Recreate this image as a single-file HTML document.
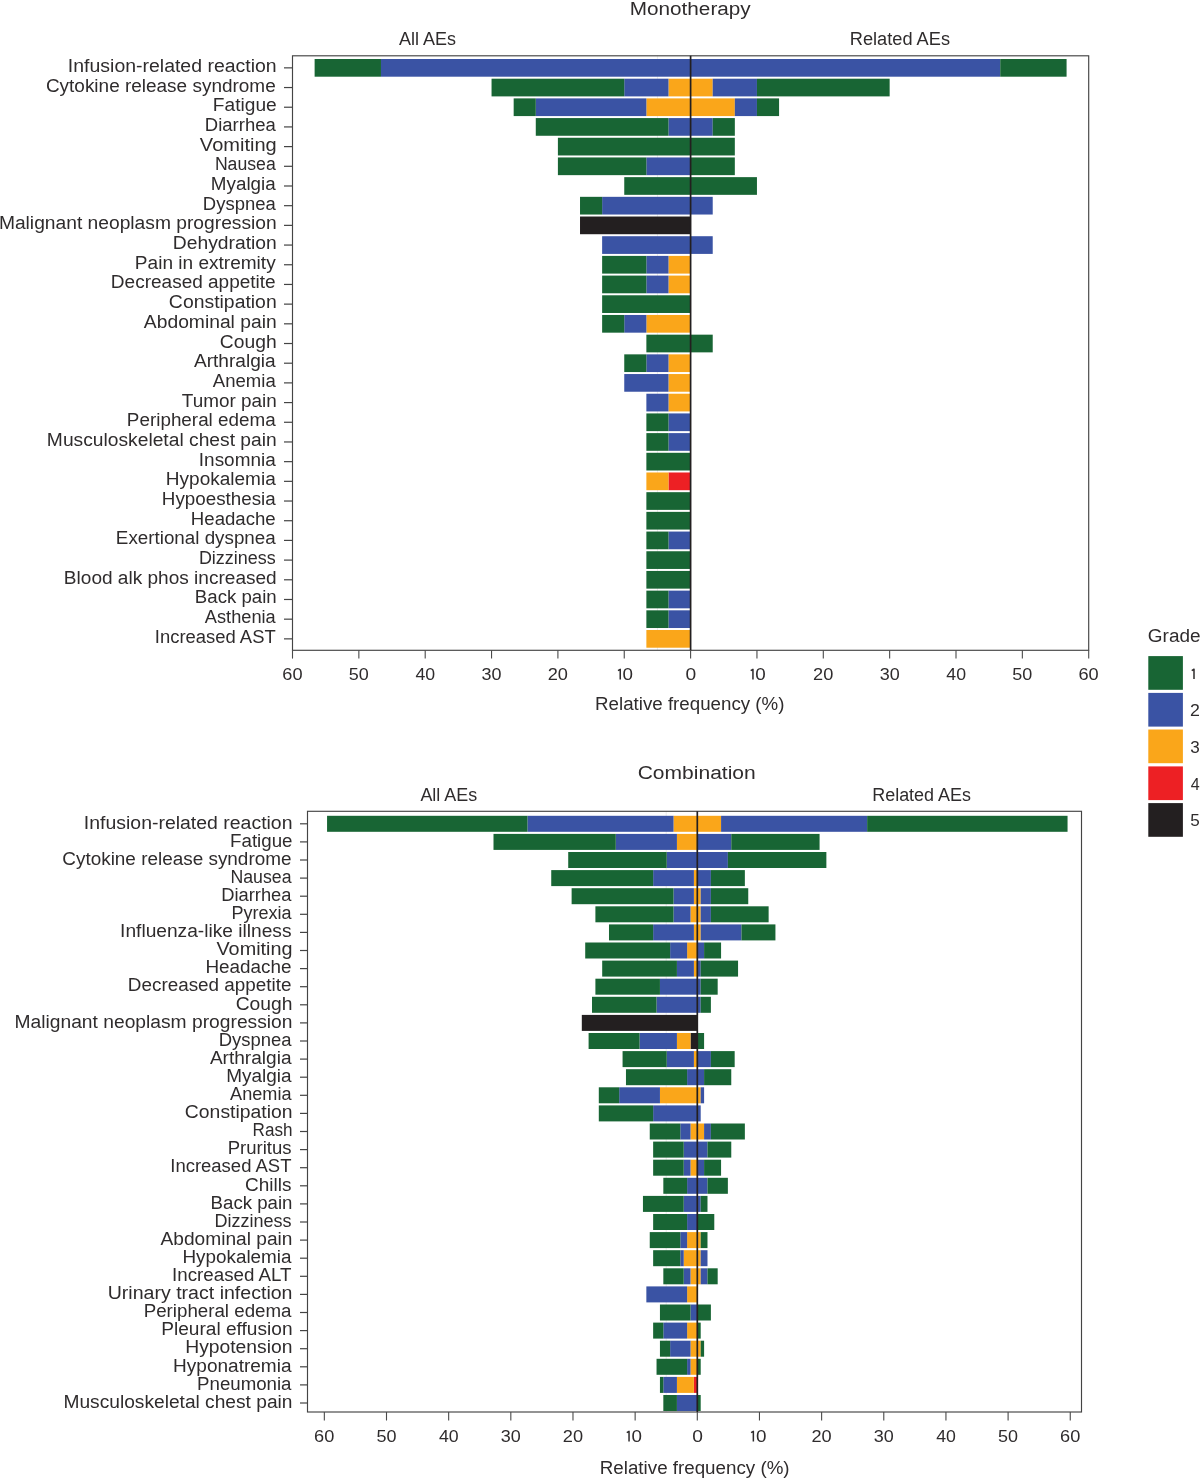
<!DOCTYPE html>
<html><head><meta charset="utf-8"><style>
html,body{margin:0;padding:0;background:#fff;}
svg{display:block;font-family:"Liberation Sans", sans-serif;}
svg{will-change:transform;}
</style></head><body>
<svg width="1200" height="1478" viewBox="0 0 1200 1478">
<rect x="0" y="0" width="1200" height="1478" fill="#fff"/>
<line x1="657.43" y1="55.80" x2="657.43" y2="650.30" stroke="#e6e6e6" stroke-width="0.8"/>
<rect x="380.97" y="59.00" width="309.63" height="17.70" fill="#3a53a4"/>
<rect x="314.62" y="59.00" width="66.35" height="17.70" fill="#186534"/>
<rect x="690.60" y="59.00" width="309.63" height="17.70" fill="#3a53a4"/>
<rect x="1000.23" y="59.00" width="66.35" height="17.70" fill="#186534"/>
<line x1="284.00" y1="67.85" x2="292.50" y2="67.85" stroke="#444" stroke-width="1.2"/>
<rect x="668.48" y="78.69" width="22.12" height="17.70" fill="#faa61a"/>
<rect x="624.25" y="78.69" width="44.23" height="17.70" fill="#3a53a4"/>
<rect x="491.55" y="78.69" width="132.70" height="17.70" fill="#186534"/>
<rect x="690.60" y="78.69" width="22.12" height="17.70" fill="#faa61a"/>
<rect x="712.72" y="78.69" width="44.23" height="17.70" fill="#3a53a4"/>
<rect x="756.95" y="78.69" width="132.70" height="17.70" fill="#186534"/>
<line x1="284.00" y1="87.54" x2="292.50" y2="87.54" stroke="#444" stroke-width="1.2"/>
<rect x="646.37" y="98.38" width="44.23" height="17.70" fill="#faa61a"/>
<rect x="535.78" y="98.38" width="110.58" height="17.70" fill="#3a53a4"/>
<rect x="513.67" y="98.38" width="22.12" height="17.70" fill="#186534"/>
<rect x="690.60" y="98.38" width="44.23" height="17.70" fill="#faa61a"/>
<rect x="734.83" y="98.38" width="22.12" height="17.70" fill="#3a53a4"/>
<rect x="756.95" y="98.38" width="22.12" height="17.70" fill="#186534"/>
<line x1="284.00" y1="107.23" x2="292.50" y2="107.23" stroke="#444" stroke-width="1.2"/>
<rect x="668.48" y="118.07" width="22.12" height="17.70" fill="#3a53a4"/>
<rect x="535.78" y="118.07" width="132.70" height="17.70" fill="#186534"/>
<rect x="690.60" y="118.07" width="22.12" height="17.70" fill="#3a53a4"/>
<rect x="712.72" y="118.07" width="22.12" height="17.70" fill="#186534"/>
<line x1="284.00" y1="126.92" x2="292.50" y2="126.92" stroke="#444" stroke-width="1.2"/>
<rect x="557.90" y="137.76" width="132.70" height="17.70" fill="#186534"/>
<rect x="690.60" y="137.76" width="44.23" height="17.70" fill="#186534"/>
<line x1="284.00" y1="146.61" x2="292.50" y2="146.61" stroke="#444" stroke-width="1.2"/>
<rect x="646.37" y="157.45" width="44.23" height="17.70" fill="#3a53a4"/>
<rect x="557.90" y="157.45" width="88.47" height="17.70" fill="#186534"/>
<rect x="690.60" y="157.45" width="44.23" height="17.70" fill="#186534"/>
<line x1="284.00" y1="166.30" x2="292.50" y2="166.30" stroke="#444" stroke-width="1.2"/>
<rect x="624.25" y="177.14" width="66.35" height="17.70" fill="#186534"/>
<rect x="690.60" y="177.14" width="66.35" height="17.70" fill="#186534"/>
<line x1="284.00" y1="185.99" x2="292.50" y2="185.99" stroke="#444" stroke-width="1.2"/>
<rect x="602.13" y="196.83" width="88.47" height="17.70" fill="#3a53a4"/>
<rect x="580.02" y="196.83" width="22.12" height="17.70" fill="#186534"/>
<rect x="690.60" y="196.83" width="22.12" height="17.70" fill="#3a53a4"/>
<line x1="284.00" y1="205.68" x2="292.50" y2="205.68" stroke="#444" stroke-width="1.2"/>
<rect x="580.02" y="216.52" width="110.58" height="17.70" fill="#231f20"/>
<line x1="284.00" y1="225.37" x2="292.50" y2="225.37" stroke="#444" stroke-width="1.2"/>
<rect x="602.13" y="236.21" width="88.47" height="17.70" fill="#3a53a4"/>
<rect x="690.60" y="236.21" width="22.12" height="17.70" fill="#3a53a4"/>
<line x1="284.00" y1="245.06" x2="292.50" y2="245.06" stroke="#444" stroke-width="1.2"/>
<rect x="668.48" y="255.90" width="22.12" height="17.70" fill="#faa61a"/>
<rect x="646.37" y="255.90" width="22.12" height="17.70" fill="#3a53a4"/>
<rect x="602.13" y="255.90" width="44.23" height="17.70" fill="#186534"/>
<line x1="284.00" y1="264.75" x2="292.50" y2="264.75" stroke="#444" stroke-width="1.2"/>
<rect x="668.48" y="275.59" width="22.12" height="17.70" fill="#faa61a"/>
<rect x="646.37" y="275.59" width="22.12" height="17.70" fill="#3a53a4"/>
<rect x="602.13" y="275.59" width="44.23" height="17.70" fill="#186534"/>
<line x1="284.00" y1="284.44" x2="292.50" y2="284.44" stroke="#444" stroke-width="1.2"/>
<rect x="602.13" y="295.28" width="88.47" height="17.70" fill="#186534"/>
<line x1="284.00" y1="304.13" x2="292.50" y2="304.13" stroke="#444" stroke-width="1.2"/>
<rect x="646.37" y="314.97" width="44.23" height="17.70" fill="#faa61a"/>
<rect x="624.25" y="314.97" width="22.12" height="17.70" fill="#3a53a4"/>
<rect x="602.13" y="314.97" width="22.12" height="17.70" fill="#186534"/>
<line x1="284.00" y1="323.82" x2="292.50" y2="323.82" stroke="#444" stroke-width="1.2"/>
<rect x="646.37" y="334.66" width="44.23" height="17.70" fill="#186534"/>
<rect x="690.60" y="334.66" width="22.12" height="17.70" fill="#186534"/>
<line x1="284.00" y1="343.51" x2="292.50" y2="343.51" stroke="#444" stroke-width="1.2"/>
<rect x="668.48" y="354.35" width="22.12" height="17.70" fill="#faa61a"/>
<rect x="646.37" y="354.35" width="22.12" height="17.70" fill="#3a53a4"/>
<rect x="624.25" y="354.35" width="22.12" height="17.70" fill="#186534"/>
<line x1="284.00" y1="363.20" x2="292.50" y2="363.20" stroke="#444" stroke-width="1.2"/>
<rect x="668.48" y="374.04" width="22.12" height="17.70" fill="#faa61a"/>
<rect x="624.25" y="374.04" width="44.23" height="17.70" fill="#3a53a4"/>
<line x1="284.00" y1="382.89" x2="292.50" y2="382.89" stroke="#444" stroke-width="1.2"/>
<rect x="668.48" y="393.73" width="22.12" height="17.70" fill="#faa61a"/>
<rect x="646.37" y="393.73" width="22.12" height="17.70" fill="#3a53a4"/>
<line x1="284.00" y1="402.58" x2="292.50" y2="402.58" stroke="#444" stroke-width="1.2"/>
<rect x="668.48" y="413.42" width="22.12" height="17.70" fill="#3a53a4"/>
<rect x="646.37" y="413.42" width="22.12" height="17.70" fill="#186534"/>
<line x1="284.00" y1="422.27" x2="292.50" y2="422.27" stroke="#444" stroke-width="1.2"/>
<rect x="668.48" y="433.11" width="22.12" height="17.70" fill="#3a53a4"/>
<rect x="646.37" y="433.11" width="22.12" height="17.70" fill="#186534"/>
<line x1="284.00" y1="441.96" x2="292.50" y2="441.96" stroke="#444" stroke-width="1.2"/>
<rect x="646.37" y="452.80" width="44.23" height="17.70" fill="#186534"/>
<line x1="284.00" y1="461.65" x2="292.50" y2="461.65" stroke="#444" stroke-width="1.2"/>
<rect x="668.48" y="472.49" width="22.12" height="17.70" fill="#ed2024"/>
<rect x="646.37" y="472.49" width="22.12" height="17.70" fill="#faa61a"/>
<line x1="284.00" y1="481.34" x2="292.50" y2="481.34" stroke="#444" stroke-width="1.2"/>
<rect x="646.37" y="492.18" width="44.23" height="17.70" fill="#186534"/>
<line x1="284.00" y1="501.03" x2="292.50" y2="501.03" stroke="#444" stroke-width="1.2"/>
<rect x="646.37" y="511.87" width="44.23" height="17.70" fill="#186534"/>
<line x1="284.00" y1="520.72" x2="292.50" y2="520.72" stroke="#444" stroke-width="1.2"/>
<rect x="668.48" y="531.56" width="22.12" height="17.70" fill="#3a53a4"/>
<rect x="646.37" y="531.56" width="22.12" height="17.70" fill="#186534"/>
<line x1="284.00" y1="540.41" x2="292.50" y2="540.41" stroke="#444" stroke-width="1.2"/>
<rect x="646.37" y="551.25" width="44.23" height="17.70" fill="#186534"/>
<line x1="284.00" y1="560.10" x2="292.50" y2="560.10" stroke="#444" stroke-width="1.2"/>
<rect x="646.37" y="570.94" width="44.23" height="17.70" fill="#186534"/>
<line x1="284.00" y1="579.79" x2="292.50" y2="579.79" stroke="#444" stroke-width="1.2"/>
<rect x="668.48" y="590.63" width="22.12" height="17.70" fill="#3a53a4"/>
<rect x="646.37" y="590.63" width="22.12" height="17.70" fill="#186534"/>
<line x1="284.00" y1="599.48" x2="292.50" y2="599.48" stroke="#444" stroke-width="1.2"/>
<rect x="668.48" y="610.32" width="22.12" height="17.70" fill="#3a53a4"/>
<rect x="646.37" y="610.32" width="22.12" height="17.70" fill="#186534"/>
<line x1="284.00" y1="619.17" x2="292.50" y2="619.17" stroke="#444" stroke-width="1.2"/>
<rect x="646.37" y="630.01" width="44.23" height="17.70" fill="#faa61a"/>
<line x1="284.00" y1="638.86" x2="292.50" y2="638.86" stroke="#444" stroke-width="1.2"/>
<rect x="292.50" y="55.80" width="796.20" height="594.50" fill="none" stroke="#444" stroke-width="1.15"/>
<line x1="690.60" y1="55.80" x2="690.60" y2="650.30" stroke="#231f20" stroke-width="1.7"/>
<line x1="292.50" y1="650.30" x2="292.50" y2="658.60" stroke="#4a4a4a" stroke-width="1.1"/>
<line x1="358.85" y1="650.30" x2="358.85" y2="658.60" stroke="#4a4a4a" stroke-width="1.1"/>
<line x1="425.20" y1="650.30" x2="425.20" y2="658.60" stroke="#4a4a4a" stroke-width="1.1"/>
<line x1="491.55" y1="650.30" x2="491.55" y2="658.60" stroke="#4a4a4a" stroke-width="1.1"/>
<line x1="557.90" y1="650.30" x2="557.90" y2="658.60" stroke="#4a4a4a" stroke-width="1.1"/>
<line x1="624.25" y1="650.30" x2="624.25" y2="658.60" stroke="#4a4a4a" stroke-width="1.1"/>
<line x1="690.60" y1="650.30" x2="690.60" y2="658.60" stroke="#4a4a4a" stroke-width="1.1"/>
<line x1="756.95" y1="650.30" x2="756.95" y2="658.60" stroke="#4a4a4a" stroke-width="1.1"/>
<line x1="823.30" y1="650.30" x2="823.30" y2="658.60" stroke="#4a4a4a" stroke-width="1.1"/>
<line x1="889.65" y1="650.30" x2="889.65" y2="658.60" stroke="#4a4a4a" stroke-width="1.1"/>
<line x1="956.00" y1="650.30" x2="956.00" y2="658.60" stroke="#4a4a4a" stroke-width="1.1"/>
<line x1="1022.35" y1="650.30" x2="1022.35" y2="658.60" stroke="#4a4a4a" stroke-width="1.1"/>
<line x1="1088.70" y1="650.30" x2="1088.70" y2="658.60" stroke="#4a4a4a" stroke-width="1.1"/>
<text transform="translate(282.28,679.60) scale(1.1370,1)" font-size="16" fill="#2f2c2d">60</text>
<text transform="translate(348.83,679.60) scale(1.1251,1)" font-size="16" fill="#2f2c2d">50</text>
<text transform="translate(415.49,679.60) scale(1.1068,1)" font-size="16" fill="#2f2c2d">40</text>
<text transform="translate(481.57,679.60) scale(1.1230,1)" font-size="16" fill="#2f2c2d">30</text>
<text transform="translate(547.69,679.60) scale(1.1364,1)" font-size="16" fill="#2f2c2d">20</text>
<path d="M618.00,670.70 L620.25,669.30 L620.25,679.60" fill="none" stroke="#2f2c2d" stroke-width="1.5" stroke-linejoin="round"/>
<text transform="translate(622.46,679.60) scale(1.1767,1)" font-size="16" fill="#2f2c2d">0</text>
<text transform="translate(685.55,679.60) scale(1.2029,1)" font-size="16" fill="#2f2c2d">0</text>
<path d="M750.70,670.70 L752.95,669.30 L752.95,679.60" fill="none" stroke="#2f2c2d" stroke-width="1.5" stroke-linejoin="round"/>
<text transform="translate(755.16,679.60) scale(1.1767,1)" font-size="16" fill="#2f2c2d">0</text>
<text transform="translate(813.09,679.60) scale(1.1364,1)" font-size="16" fill="#2f2c2d">20</text>
<text transform="translate(879.67,679.60) scale(1.1230,1)" font-size="16" fill="#2f2c2d">30</text>
<text transform="translate(946.29,679.60) scale(1.1068,1)" font-size="16" fill="#2f2c2d">40</text>
<text transform="translate(1012.33,679.60) scale(1.1251,1)" font-size="16" fill="#2f2c2d">50</text>
<text transform="translate(1078.48,679.60) scale(1.1370,1)" font-size="16" fill="#2f2c2d">60</text>
<line x1="666.22" y1="811.30" x2="666.22" y2="1412.00" stroke="#e6e6e6" stroke-width="0.8"/>
<rect x="673.52" y="815.80" width="23.78" height="16.00" fill="#faa61a"/>
<rect x="527.46" y="815.80" width="146.06" height="16.00" fill="#3a53a4"/>
<rect x="327.06" y="815.80" width="200.41" height="16.00" fill="#186534"/>
<rect x="697.30" y="815.80" width="23.78" height="16.00" fill="#faa61a"/>
<rect x="721.08" y="815.80" width="146.06" height="16.00" fill="#3a53a4"/>
<rect x="867.14" y="815.80" width="200.41" height="16.00" fill="#186534"/>
<line x1="300.00" y1="823.80" x2="307.50" y2="823.80" stroke="#444" stroke-width="1.2"/>
<rect x="676.92" y="833.90" width="20.38" height="16.00" fill="#faa61a"/>
<rect x="615.78" y="833.90" width="61.14" height="16.00" fill="#3a53a4"/>
<rect x="493.50" y="833.90" width="122.28" height="16.00" fill="#186534"/>
<rect x="697.30" y="833.90" width="33.97" height="16.00" fill="#3a53a4"/>
<rect x="731.27" y="833.90" width="88.31" height="16.00" fill="#186534"/>
<line x1="300.00" y1="841.90" x2="307.50" y2="841.90" stroke="#444" stroke-width="1.2"/>
<rect x="666.73" y="852.00" width="30.57" height="16.00" fill="#3a53a4"/>
<rect x="568.22" y="852.00" width="98.50" height="16.00" fill="#186534"/>
<rect x="697.30" y="852.00" width="30.57" height="16.00" fill="#3a53a4"/>
<rect x="727.87" y="852.00" width="98.50" height="16.00" fill="#186534"/>
<line x1="300.00" y1="860.00" x2="307.50" y2="860.00" stroke="#444" stroke-width="1.2"/>
<rect x="693.90" y="870.10" width="3.40" height="16.00" fill="#faa61a"/>
<rect x="653.14" y="870.10" width="40.76" height="16.00" fill="#3a53a4"/>
<rect x="551.24" y="870.10" width="101.90" height="16.00" fill="#186534"/>
<rect x="697.30" y="870.10" width="13.59" height="16.00" fill="#3a53a4"/>
<rect x="710.89" y="870.10" width="33.97" height="16.00" fill="#186534"/>
<line x1="300.00" y1="878.10" x2="307.50" y2="878.10" stroke="#444" stroke-width="1.2"/>
<rect x="693.90" y="888.20" width="3.40" height="16.00" fill="#faa61a"/>
<rect x="673.52" y="888.20" width="20.38" height="16.00" fill="#3a53a4"/>
<rect x="571.62" y="888.20" width="101.90" height="16.00" fill="#186534"/>
<rect x="697.30" y="888.20" width="3.40" height="16.00" fill="#faa61a"/>
<rect x="700.70" y="888.20" width="10.19" height="16.00" fill="#3a53a4"/>
<rect x="710.89" y="888.20" width="37.36" height="16.00" fill="#186534"/>
<line x1="300.00" y1="896.20" x2="307.50" y2="896.20" stroke="#444" stroke-width="1.2"/>
<rect x="690.51" y="906.30" width="6.79" height="16.00" fill="#faa61a"/>
<rect x="673.52" y="906.30" width="16.98" height="16.00" fill="#3a53a4"/>
<rect x="595.40" y="906.30" width="78.12" height="16.00" fill="#186534"/>
<rect x="697.30" y="906.30" width="3.40" height="16.00" fill="#faa61a"/>
<rect x="700.70" y="906.30" width="10.19" height="16.00" fill="#3a53a4"/>
<rect x="710.89" y="906.30" width="57.74" height="16.00" fill="#186534"/>
<line x1="300.00" y1="914.30" x2="307.50" y2="914.30" stroke="#444" stroke-width="1.2"/>
<rect x="693.90" y="924.40" width="3.40" height="16.00" fill="#faa61a"/>
<rect x="653.14" y="924.40" width="40.76" height="16.00" fill="#3a53a4"/>
<rect x="608.99" y="924.40" width="44.16" height="16.00" fill="#186534"/>
<rect x="697.30" y="924.40" width="3.40" height="16.00" fill="#faa61a"/>
<rect x="700.70" y="924.40" width="40.76" height="16.00" fill="#3a53a4"/>
<rect x="741.46" y="924.40" width="33.97" height="16.00" fill="#186534"/>
<line x1="300.00" y1="932.40" x2="307.50" y2="932.40" stroke="#444" stroke-width="1.2"/>
<rect x="687.11" y="942.50" width="10.19" height="16.00" fill="#faa61a"/>
<rect x="670.13" y="942.50" width="16.98" height="16.00" fill="#3a53a4"/>
<rect x="585.21" y="942.50" width="84.92" height="16.00" fill="#186534"/>
<rect x="697.30" y="942.50" width="6.79" height="16.00" fill="#3a53a4"/>
<rect x="704.09" y="942.50" width="16.98" height="16.00" fill="#186534"/>
<line x1="300.00" y1="950.50" x2="307.50" y2="950.50" stroke="#444" stroke-width="1.2"/>
<rect x="693.90" y="960.60" width="3.40" height="16.00" fill="#faa61a"/>
<rect x="676.92" y="960.60" width="16.98" height="16.00" fill="#3a53a4"/>
<rect x="602.19" y="960.60" width="74.73" height="16.00" fill="#186534"/>
<rect x="697.30" y="960.60" width="3.40" height="16.00" fill="#3a53a4"/>
<rect x="700.70" y="960.60" width="37.36" height="16.00" fill="#186534"/>
<line x1="300.00" y1="968.60" x2="307.50" y2="968.60" stroke="#444" stroke-width="1.2"/>
<rect x="659.94" y="978.70" width="37.36" height="16.00" fill="#3a53a4"/>
<rect x="595.40" y="978.70" width="64.54" height="16.00" fill="#186534"/>
<rect x="697.30" y="978.70" width="3.40" height="16.00" fill="#3a53a4"/>
<rect x="700.70" y="978.70" width="16.98" height="16.00" fill="#186534"/>
<line x1="300.00" y1="986.70" x2="307.50" y2="986.70" stroke="#444" stroke-width="1.2"/>
<rect x="656.54" y="996.80" width="40.76" height="16.00" fill="#3a53a4"/>
<rect x="592.00" y="996.80" width="64.54" height="16.00" fill="#186534"/>
<rect x="697.30" y="996.80" width="3.40" height="16.00" fill="#3a53a4"/>
<rect x="700.70" y="996.80" width="10.19" height="16.00" fill="#186534"/>
<line x1="300.00" y1="1004.80" x2="307.50" y2="1004.80" stroke="#444" stroke-width="1.2"/>
<rect x="581.81" y="1014.90" width="115.49" height="16.00" fill="#231f20"/>
<line x1="300.00" y1="1022.90" x2="307.50" y2="1022.90" stroke="#444" stroke-width="1.2"/>
<rect x="690.51" y="1033.00" width="6.79" height="16.00" fill="#231f20"/>
<rect x="676.92" y="1033.00" width="13.59" height="16.00" fill="#faa61a"/>
<rect x="639.56" y="1033.00" width="37.36" height="16.00" fill="#3a53a4"/>
<rect x="588.60" y="1033.00" width="50.95" height="16.00" fill="#186534"/>
<rect x="697.30" y="1033.00" width="6.79" height="16.00" fill="#186534"/>
<line x1="300.00" y1="1041.00" x2="307.50" y2="1041.00" stroke="#444" stroke-width="1.2"/>
<rect x="693.90" y="1051.10" width="3.40" height="16.00" fill="#faa61a"/>
<rect x="666.73" y="1051.10" width="27.17" height="16.00" fill="#3a53a4"/>
<rect x="622.57" y="1051.10" width="44.16" height="16.00" fill="#186534"/>
<rect x="697.30" y="1051.10" width="13.59" height="16.00" fill="#3a53a4"/>
<rect x="710.89" y="1051.10" width="23.78" height="16.00" fill="#186534"/>
<line x1="300.00" y1="1059.10" x2="307.50" y2="1059.10" stroke="#444" stroke-width="1.2"/>
<rect x="687.11" y="1069.20" width="10.19" height="16.00" fill="#3a53a4"/>
<rect x="625.97" y="1069.20" width="61.14" height="16.00" fill="#186534"/>
<rect x="697.30" y="1069.20" width="6.79" height="16.00" fill="#3a53a4"/>
<rect x="704.09" y="1069.20" width="27.17" height="16.00" fill="#186534"/>
<line x1="300.00" y1="1077.20" x2="307.50" y2="1077.20" stroke="#444" stroke-width="1.2"/>
<rect x="659.94" y="1087.30" width="37.36" height="16.00" fill="#faa61a"/>
<rect x="619.18" y="1087.30" width="40.76" height="16.00" fill="#3a53a4"/>
<rect x="598.80" y="1087.30" width="20.38" height="16.00" fill="#186534"/>
<rect x="697.30" y="1087.30" width="3.40" height="16.00" fill="#faa61a"/>
<rect x="700.70" y="1087.30" width="3.40" height="16.00" fill="#3a53a4"/>
<line x1="300.00" y1="1095.30" x2="307.50" y2="1095.30" stroke="#444" stroke-width="1.2"/>
<rect x="653.14" y="1105.40" width="44.16" height="16.00" fill="#3a53a4"/>
<rect x="598.80" y="1105.40" width="54.35" height="16.00" fill="#186534"/>
<rect x="697.30" y="1105.40" width="3.40" height="16.00" fill="#3a53a4"/>
<line x1="300.00" y1="1113.40" x2="307.50" y2="1113.40" stroke="#444" stroke-width="1.2"/>
<rect x="690.51" y="1123.50" width="6.79" height="16.00" fill="#faa61a"/>
<rect x="680.32" y="1123.50" width="10.19" height="16.00" fill="#3a53a4"/>
<rect x="649.75" y="1123.50" width="30.57" height="16.00" fill="#186534"/>
<rect x="697.30" y="1123.50" width="6.79" height="16.00" fill="#faa61a"/>
<rect x="704.09" y="1123.50" width="6.79" height="16.00" fill="#3a53a4"/>
<rect x="710.89" y="1123.50" width="33.97" height="16.00" fill="#186534"/>
<line x1="300.00" y1="1131.50" x2="307.50" y2="1131.50" stroke="#444" stroke-width="1.2"/>
<rect x="683.71" y="1141.60" width="13.59" height="16.00" fill="#3a53a4"/>
<rect x="653.14" y="1141.60" width="30.57" height="16.00" fill="#186534"/>
<rect x="697.30" y="1141.60" width="10.19" height="16.00" fill="#3a53a4"/>
<rect x="707.49" y="1141.60" width="23.78" height="16.00" fill="#186534"/>
<line x1="300.00" y1="1149.60" x2="307.50" y2="1149.60" stroke="#444" stroke-width="1.2"/>
<rect x="690.51" y="1159.70" width="6.79" height="16.00" fill="#faa61a"/>
<rect x="683.71" y="1159.70" width="6.79" height="16.00" fill="#3a53a4"/>
<rect x="653.14" y="1159.70" width="30.57" height="16.00" fill="#186534"/>
<rect x="697.30" y="1159.70" width="6.79" height="16.00" fill="#3a53a4"/>
<rect x="704.09" y="1159.70" width="16.98" height="16.00" fill="#186534"/>
<line x1="300.00" y1="1167.70" x2="307.50" y2="1167.70" stroke="#444" stroke-width="1.2"/>
<rect x="687.11" y="1177.80" width="10.19" height="16.00" fill="#3a53a4"/>
<rect x="663.33" y="1177.80" width="23.78" height="16.00" fill="#186534"/>
<rect x="697.30" y="1177.80" width="10.19" height="16.00" fill="#3a53a4"/>
<rect x="707.49" y="1177.80" width="20.38" height="16.00" fill="#186534"/>
<line x1="300.00" y1="1185.80" x2="307.50" y2="1185.80" stroke="#444" stroke-width="1.2"/>
<rect x="683.71" y="1195.90" width="13.59" height="16.00" fill="#3a53a4"/>
<rect x="642.95" y="1195.90" width="40.76" height="16.00" fill="#186534"/>
<rect x="697.30" y="1195.90" width="3.40" height="16.00" fill="#3a53a4"/>
<rect x="700.70" y="1195.90" width="6.79" height="16.00" fill="#186534"/>
<line x1="300.00" y1="1203.90" x2="307.50" y2="1203.90" stroke="#444" stroke-width="1.2"/>
<rect x="687.11" y="1214.00" width="10.19" height="16.00" fill="#3a53a4"/>
<rect x="653.14" y="1214.00" width="33.97" height="16.00" fill="#186534"/>
<rect x="697.30" y="1214.00" width="16.98" height="16.00" fill="#186534"/>
<line x1="300.00" y1="1222.00" x2="307.50" y2="1222.00" stroke="#444" stroke-width="1.2"/>
<rect x="687.11" y="1232.10" width="10.19" height="16.00" fill="#faa61a"/>
<rect x="680.32" y="1232.10" width="6.79" height="16.00" fill="#3a53a4"/>
<rect x="649.75" y="1232.10" width="30.57" height="16.00" fill="#186534"/>
<rect x="697.30" y="1232.10" width="3.40" height="16.00" fill="#faa61a"/>
<rect x="700.70" y="1232.10" width="6.79" height="16.00" fill="#186534"/>
<line x1="300.00" y1="1240.10" x2="307.50" y2="1240.10" stroke="#444" stroke-width="1.2"/>
<rect x="683.71" y="1250.20" width="13.59" height="16.00" fill="#faa61a"/>
<rect x="680.32" y="1250.20" width="3.40" height="16.00" fill="#3a53a4"/>
<rect x="653.14" y="1250.20" width="27.17" height="16.00" fill="#186534"/>
<rect x="697.30" y="1250.20" width="3.40" height="16.00" fill="#faa61a"/>
<rect x="700.70" y="1250.20" width="6.79" height="16.00" fill="#3a53a4"/>
<line x1="300.00" y1="1258.20" x2="307.50" y2="1258.20" stroke="#444" stroke-width="1.2"/>
<rect x="690.51" y="1268.30" width="6.79" height="16.00" fill="#faa61a"/>
<rect x="683.71" y="1268.30" width="6.79" height="16.00" fill="#3a53a4"/>
<rect x="663.33" y="1268.30" width="20.38" height="16.00" fill="#186534"/>
<rect x="697.30" y="1268.30" width="3.40" height="16.00" fill="#faa61a"/>
<rect x="700.70" y="1268.30" width="6.79" height="16.00" fill="#3a53a4"/>
<rect x="707.49" y="1268.30" width="10.19" height="16.00" fill="#186534"/>
<line x1="300.00" y1="1276.30" x2="307.50" y2="1276.30" stroke="#444" stroke-width="1.2"/>
<rect x="687.11" y="1286.40" width="10.19" height="16.00" fill="#faa61a"/>
<rect x="646.35" y="1286.40" width="40.76" height="16.00" fill="#3a53a4"/>
<line x1="300.00" y1="1294.40" x2="307.50" y2="1294.40" stroke="#444" stroke-width="1.2"/>
<rect x="690.51" y="1304.50" width="6.79" height="16.00" fill="#3a53a4"/>
<rect x="659.94" y="1304.50" width="30.57" height="16.00" fill="#186534"/>
<rect x="697.30" y="1304.50" width="13.59" height="16.00" fill="#186534"/>
<line x1="300.00" y1="1312.50" x2="307.50" y2="1312.50" stroke="#444" stroke-width="1.2"/>
<rect x="687.11" y="1322.60" width="10.19" height="16.00" fill="#faa61a"/>
<rect x="663.33" y="1322.60" width="23.78" height="16.00" fill="#3a53a4"/>
<rect x="653.14" y="1322.60" width="10.19" height="16.00" fill="#186534"/>
<rect x="697.30" y="1322.60" width="3.40" height="16.00" fill="#186534"/>
<line x1="300.00" y1="1330.60" x2="307.50" y2="1330.60" stroke="#444" stroke-width="1.2"/>
<rect x="690.51" y="1340.70" width="6.79" height="16.00" fill="#faa61a"/>
<rect x="670.13" y="1340.70" width="20.38" height="16.00" fill="#3a53a4"/>
<rect x="659.94" y="1340.70" width="10.19" height="16.00" fill="#186534"/>
<rect x="697.30" y="1340.70" width="3.40" height="16.00" fill="#faa61a"/>
<rect x="700.70" y="1340.70" width="3.40" height="16.00" fill="#186534"/>
<line x1="300.00" y1="1348.70" x2="307.50" y2="1348.70" stroke="#444" stroke-width="1.2"/>
<rect x="690.51" y="1358.80" width="6.79" height="16.00" fill="#faa61a"/>
<rect x="687.11" y="1358.80" width="3.40" height="16.00" fill="#3a53a4"/>
<rect x="656.54" y="1358.80" width="30.57" height="16.00" fill="#186534"/>
<rect x="697.30" y="1358.80" width="3.40" height="16.00" fill="#186534"/>
<line x1="300.00" y1="1366.80" x2="307.50" y2="1366.80" stroke="#444" stroke-width="1.2"/>
<rect x="693.90" y="1376.90" width="3.40" height="16.00" fill="#ed2024"/>
<rect x="676.92" y="1376.90" width="16.98" height="16.00" fill="#faa61a"/>
<rect x="663.33" y="1376.90" width="13.59" height="16.00" fill="#3a53a4"/>
<rect x="659.94" y="1376.90" width="3.40" height="16.00" fill="#186534"/>
<line x1="300.00" y1="1384.90" x2="307.50" y2="1384.90" stroke="#444" stroke-width="1.2"/>
<rect x="676.92" y="1395.00" width="20.38" height="16.00" fill="#3a53a4"/>
<rect x="663.33" y="1395.00" width="13.59" height="16.00" fill="#186534"/>
<rect x="697.30" y="1395.00" width="3.40" height="16.00" fill="#186534"/>
<line x1="300.00" y1="1403.00" x2="307.50" y2="1403.00" stroke="#444" stroke-width="1.2"/>
<rect x="307.50" y="811.30" width="774.00" height="600.70" fill="none" stroke="#444" stroke-width="1.15"/>
<line x1="697.30" y1="811.30" x2="697.30" y2="1412.00" stroke="#231f20" stroke-width="1.7"/>
<line x1="324.34" y1="1412.00" x2="324.34" y2="1420.50" stroke="#4a4a4a" stroke-width="1.1"/>
<line x1="386.50" y1="1412.00" x2="386.50" y2="1420.50" stroke="#4a4a4a" stroke-width="1.1"/>
<line x1="448.66" y1="1412.00" x2="448.66" y2="1420.50" stroke="#4a4a4a" stroke-width="1.1"/>
<line x1="510.82" y1="1412.00" x2="510.82" y2="1420.50" stroke="#4a4a4a" stroke-width="1.1"/>
<line x1="572.98" y1="1412.00" x2="572.98" y2="1420.50" stroke="#4a4a4a" stroke-width="1.1"/>
<line x1="635.14" y1="1412.00" x2="635.14" y2="1420.50" stroke="#4a4a4a" stroke-width="1.1"/>
<line x1="697.30" y1="1412.00" x2="697.30" y2="1420.50" stroke="#4a4a4a" stroke-width="1.1"/>
<line x1="759.46" y1="1412.00" x2="759.46" y2="1420.50" stroke="#4a4a4a" stroke-width="1.1"/>
<line x1="821.62" y1="1412.00" x2="821.62" y2="1420.50" stroke="#4a4a4a" stroke-width="1.1"/>
<line x1="883.78" y1="1412.00" x2="883.78" y2="1420.50" stroke="#4a4a4a" stroke-width="1.1"/>
<line x1="945.94" y1="1412.00" x2="945.94" y2="1420.50" stroke="#4a4a4a" stroke-width="1.1"/>
<line x1="1008.10" y1="1412.00" x2="1008.10" y2="1420.50" stroke="#4a4a4a" stroke-width="1.1"/>
<line x1="1070.26" y1="1412.00" x2="1070.26" y2="1420.50" stroke="#4a4a4a" stroke-width="1.1"/>
<text transform="translate(314.12,1441.60) scale(1.1370,1)" font-size="16" fill="#2f2c2d">60</text>
<text transform="translate(376.48,1441.60) scale(1.1251,1)" font-size="16" fill="#2f2c2d">50</text>
<text transform="translate(438.95,1441.60) scale(1.1068,1)" font-size="16" fill="#2f2c2d">40</text>
<text transform="translate(500.84,1441.60) scale(1.1230,1)" font-size="16" fill="#2f2c2d">30</text>
<text transform="translate(562.77,1441.60) scale(1.1364,1)" font-size="16" fill="#2f2c2d">20</text>
<path d="M626.79,1432.70 L629.04,1431.30 L629.04,1441.60" fill="none" stroke="#2f2c2d" stroke-width="1.5" stroke-linejoin="round"/>
<text transform="translate(631.60,1441.60) scale(1.1767,1)" font-size="16" fill="#2f2c2d">0</text>
<text transform="translate(692.15,1441.60) scale(1.2029,1)" font-size="16" fill="#2f2c2d">0</text>
<path d="M751.11,1432.70 L753.36,1431.30 L753.36,1441.60" fill="none" stroke="#2f2c2d" stroke-width="1.5" stroke-linejoin="round"/>
<text transform="translate(755.92,1441.60) scale(1.1767,1)" font-size="16" fill="#2f2c2d">0</text>
<text transform="translate(811.41,1441.60) scale(1.1364,1)" font-size="16" fill="#2f2c2d">20</text>
<text transform="translate(873.80,1441.60) scale(1.1230,1)" font-size="16" fill="#2f2c2d">30</text>
<text transform="translate(936.23,1441.60) scale(1.1068,1)" font-size="16" fill="#2f2c2d">40</text>
<text transform="translate(998.08,1441.60) scale(1.1251,1)" font-size="16" fill="#2f2c2d">50</text>
<text transform="translate(1060.04,1441.60) scale(1.1370,1)" font-size="16" fill="#2f2c2d">60</text>
<rect x="1148.30" y="656.10" width="34.60" height="33.70" fill="#186534"/>
<path d="M1191.75,670.60 L1194.00,669.20 L1194.00,679.10" fill="none" stroke="#2f2c2d" stroke-width="1.5" stroke-linejoin="round"/>
<rect x="1148.30" y="692.90" width="34.60" height="33.70" fill="#3a53a4"/>
<text transform="translate(1190.11,716.20) scale(1.0908,1)" font-size="16.3" fill="#2f2c2d">2</text>
<rect x="1148.30" y="729.50" width="34.60" height="33.70" fill="#faa61a"/>
<text transform="translate(1190.35,752.80) scale(1.0481,1)" font-size="16.3" fill="#2f2c2d">3</text>
<rect x="1148.30" y="766.40" width="34.60" height="33.70" fill="#ed2024"/>
<text transform="translate(1190.63,789.70) scale(0.9862,1)" font-size="16.3" fill="#2f2c2d">4</text>
<rect x="1148.30" y="803.10" width="34.60" height="33.70" fill="#231f20"/>
<text transform="translate(1190.32,826.40) scale(1.0481,1)" font-size="16.3" fill="#2f2c2d">5</text>
<text x="276.70" y="71.85" font-size="18" text-anchor="end" textLength="208.83" lengthAdjust="spacingAndGlyphs" fill="#2f2c2d">Infusion-related reaction</text>
<text x="275.70" y="91.54" font-size="18" text-anchor="end" textLength="229.80" lengthAdjust="spacingAndGlyphs" fill="#2f2c2d">Cytokine release syndrome</text>
<text x="276.70" y="111.23" font-size="18" text-anchor="end" textLength="63.88" lengthAdjust="spacingAndGlyphs" fill="#2f2c2d">Fatigue</text>
<text x="275.70" y="130.92" font-size="18" text-anchor="end" textLength="70.82" lengthAdjust="spacingAndGlyphs" fill="#2f2c2d">Diarrhea</text>
<text x="276.70" y="150.61" font-size="18" text-anchor="end" textLength="76.82" lengthAdjust="spacingAndGlyphs" fill="#2f2c2d">Vomiting</text>
<text x="275.70" y="170.30" font-size="18" text-anchor="end" textLength="60.82" lengthAdjust="spacingAndGlyphs" fill="#2f2c2d">Nausea</text>
<text x="275.70" y="189.99" font-size="18" text-anchor="end" textLength="64.83" lengthAdjust="spacingAndGlyphs" fill="#2f2c2d">Myalgia</text>
<text x="275.70" y="209.68" font-size="18" text-anchor="end" textLength="72.83" lengthAdjust="spacingAndGlyphs" fill="#2f2c2d">Dyspnea</text>
<text x="276.70" y="229.37" font-size="18" text-anchor="end" textLength="277.82" lengthAdjust="spacingAndGlyphs" fill="#2f2c2d">Malignant neoplasm progression</text>
<text x="276.70" y="249.06" font-size="18" text-anchor="end" textLength="103.86" lengthAdjust="spacingAndGlyphs" fill="#2f2c2d">Dehydration</text>
<text x="275.70" y="268.75" font-size="18" text-anchor="end" textLength="140.81" lengthAdjust="spacingAndGlyphs" fill="#2f2c2d">Pain in extremity</text>
<text x="275.70" y="288.44" font-size="18" text-anchor="end" textLength="164.81" lengthAdjust="spacingAndGlyphs" fill="#2f2c2d">Decreased appetite</text>
<text x="276.70" y="308.13" font-size="18" text-anchor="end" textLength="107.82" lengthAdjust="spacingAndGlyphs" fill="#2f2c2d">Constipation</text>
<text x="276.70" y="327.82" font-size="18" text-anchor="end" textLength="132.81" lengthAdjust="spacingAndGlyphs" fill="#2f2c2d">Abdominal pain</text>
<text x="276.70" y="347.51" font-size="18" text-anchor="end" textLength="56.84" lengthAdjust="spacingAndGlyphs" fill="#2f2c2d">Cough</text>
<text x="275.70" y="367.20" font-size="18" text-anchor="end" textLength="81.80" lengthAdjust="spacingAndGlyphs" fill="#2f2c2d">Arthralgia</text>
<text x="275.70" y="386.89" font-size="18" text-anchor="end" textLength="62.81" lengthAdjust="spacingAndGlyphs" fill="#2f2c2d">Anemia</text>
<text x="276.70" y="406.58" font-size="18" text-anchor="end" textLength="94.81" lengthAdjust="spacingAndGlyphs" fill="#2f2c2d">Tumor pain</text>
<text x="275.70" y="426.27" font-size="18" text-anchor="end" textLength="148.81" lengthAdjust="spacingAndGlyphs" fill="#2f2c2d">Peripheral edema</text>
<text x="276.70" y="445.96" font-size="18" text-anchor="end" textLength="229.83" lengthAdjust="spacingAndGlyphs" fill="#2f2c2d">Musculoskeletal chest pain</text>
<text x="275.70" y="465.65" font-size="18" text-anchor="end" textLength="76.83" lengthAdjust="spacingAndGlyphs" fill="#2f2c2d">Insomnia</text>
<text x="275.70" y="485.34" font-size="18" text-anchor="end" textLength="109.82" lengthAdjust="spacingAndGlyphs" fill="#2f2c2d">Hypokalemia</text>
<text x="275.70" y="505.03" font-size="18" text-anchor="end" textLength="113.82" lengthAdjust="spacingAndGlyphs" fill="#2f2c2d">Hypoesthesia</text>
<text x="275.70" y="524.72" font-size="18" text-anchor="end" textLength="84.84" lengthAdjust="spacingAndGlyphs" fill="#2f2c2d">Headache</text>
<text x="275.70" y="544.41" font-size="18" text-anchor="end" textLength="159.81" lengthAdjust="spacingAndGlyphs" fill="#2f2c2d">Exertional dyspnea</text>
<text x="275.70" y="564.10" font-size="18" text-anchor="end" textLength="76.82" lengthAdjust="spacingAndGlyphs" fill="#2f2c2d">Dizziness</text>
<text x="276.70" y="583.79" font-size="18" text-anchor="end" textLength="212.83" lengthAdjust="spacingAndGlyphs" fill="#2f2c2d">Blood alk phos increased</text>
<text x="276.70" y="603.48" font-size="18" text-anchor="end" textLength="81.85" lengthAdjust="spacingAndGlyphs" fill="#2f2c2d">Back pain</text>
<text x="275.70" y="623.17" font-size="18" text-anchor="end" textLength="70.81" lengthAdjust="spacingAndGlyphs" fill="#2f2c2d">Asthenia</text>
<text x="275.70" y="642.86" font-size="18" text-anchor="end" textLength="120.82" lengthAdjust="spacingAndGlyphs" fill="#2f2c2d">Increased AST</text>
<text x="750.75" y="15.00" font-size="18" text-anchor="end" textLength="121.02" lengthAdjust="spacingAndGlyphs" fill="#2f2c2d">Monotherapy</text>
<text x="456.00" y="44.70" font-size="18" text-anchor="end" textLength="57.00" lengthAdjust="spacingAndGlyphs" fill="#2f2c2d">All AEs</text>
<text x="950.00" y="44.50" font-size="18" text-anchor="end" textLength="100.22" lengthAdjust="spacingAndGlyphs" fill="#2f2c2d">Related AEs</text>
<text x="784.50" y="709.90" font-size="18" text-anchor="end" textLength="189.44" lengthAdjust="spacingAndGlyphs" fill="#2f2c2d">Relative frequency (%)</text>
<text x="292.50" y="828.50" font-size="18" text-anchor="end" textLength="208.64" lengthAdjust="spacingAndGlyphs" fill="#2f2c2d">Infusion-related reaction</text>
<text x="292.50" y="846.60" font-size="18" text-anchor="end" textLength="62.44" lengthAdjust="spacingAndGlyphs" fill="#2f2c2d">Fatigue</text>
<text x="291.50" y="864.70" font-size="18" text-anchor="end" textLength="229.20" lengthAdjust="spacingAndGlyphs" fill="#2f2c2d">Cytokine release syndrome</text>
<text x="291.50" y="882.80" font-size="18" text-anchor="end" textLength="61.02" lengthAdjust="spacingAndGlyphs" fill="#2f2c2d">Nausea</text>
<text x="291.50" y="900.90" font-size="18" text-anchor="end" textLength="70.22" lengthAdjust="spacingAndGlyphs" fill="#2f2c2d">Diarrhea</text>
<text x="291.50" y="919.00" font-size="18" text-anchor="end" textLength="60.02" lengthAdjust="spacingAndGlyphs" fill="#2f2c2d">Pyrexia</text>
<text x="291.50" y="937.10" font-size="18" text-anchor="end" textLength="171.42" lengthAdjust="spacingAndGlyphs" fill="#2f2c2d">Influenza-like illness</text>
<text x="292.50" y="955.20" font-size="18" text-anchor="end" textLength="76.01" lengthAdjust="spacingAndGlyphs" fill="#2f2c2d">Vomiting</text>
<text x="291.50" y="973.30" font-size="18" text-anchor="end" textLength="86.05" lengthAdjust="spacingAndGlyphs" fill="#2f2c2d">Headache</text>
<text x="291.50" y="991.40" font-size="18" text-anchor="end" textLength="163.62" lengthAdjust="spacingAndGlyphs" fill="#2f2c2d">Decreased appetite</text>
<text x="292.50" y="1009.50" font-size="18" text-anchor="end" textLength="56.84" lengthAdjust="spacingAndGlyphs" fill="#2f2c2d">Cough</text>
<text x="292.50" y="1027.60" font-size="18" text-anchor="end" textLength="278.01" lengthAdjust="spacingAndGlyphs" fill="#2f2c2d">Malignant neoplasm progression</text>
<text x="291.50" y="1045.70" font-size="18" text-anchor="end" textLength="72.83" lengthAdjust="spacingAndGlyphs" fill="#2f2c2d">Dyspnea</text>
<text x="291.50" y="1063.80" font-size="18" text-anchor="end" textLength="81.60" lengthAdjust="spacingAndGlyphs" fill="#2f2c2d">Arthralgia</text>
<text x="291.50" y="1081.90" font-size="18" text-anchor="end" textLength="65.24" lengthAdjust="spacingAndGlyphs" fill="#2f2c2d">Myalgia</text>
<text x="291.50" y="1100.00" font-size="18" text-anchor="end" textLength="61.41" lengthAdjust="spacingAndGlyphs" fill="#2f2c2d">Anemia</text>
<text x="292.50" y="1118.10" font-size="18" text-anchor="end" textLength="107.62" lengthAdjust="spacingAndGlyphs" fill="#2f2c2d">Constipation</text>
<text x="292.50" y="1136.20" font-size="18" text-anchor="end" textLength="39.91" lengthAdjust="spacingAndGlyphs" fill="#2f2c2d">Rash</text>
<text x="291.50" y="1154.30" font-size="18" text-anchor="end" textLength="63.82" lengthAdjust="spacingAndGlyphs" fill="#2f2c2d">Pruritus</text>
<text x="291.50" y="1172.40" font-size="18" text-anchor="end" textLength="121.22" lengthAdjust="spacingAndGlyphs" fill="#2f2c2d">Increased AST</text>
<text x="291.50" y="1190.50" font-size="18" text-anchor="end" textLength="46.42" lengthAdjust="spacingAndGlyphs" fill="#2f2c2d">Chills</text>
<text x="292.50" y="1208.60" font-size="18" text-anchor="end" textLength="81.88" lengthAdjust="spacingAndGlyphs" fill="#2f2c2d">Back pain</text>
<text x="291.50" y="1226.70" font-size="18" text-anchor="end" textLength="77.03" lengthAdjust="spacingAndGlyphs" fill="#2f2c2d">Dizziness</text>
<text x="292.50" y="1244.80" font-size="18" text-anchor="end" textLength="132.00" lengthAdjust="spacingAndGlyphs" fill="#2f2c2d">Abdominal pain</text>
<text x="291.50" y="1262.90" font-size="18" text-anchor="end" textLength="109.01" lengthAdjust="spacingAndGlyphs" fill="#2f2c2d">Hypokalemia</text>
<text x="291.50" y="1281.00" font-size="18" text-anchor="end" textLength="119.43" lengthAdjust="spacingAndGlyphs" fill="#2f2c2d">Increased ALT</text>
<text x="292.50" y="1299.10" font-size="18" text-anchor="end" textLength="184.82" lengthAdjust="spacingAndGlyphs" fill="#2f2c2d">Urinary tract infection</text>
<text x="291.50" y="1317.20" font-size="18" text-anchor="end" textLength="147.81" lengthAdjust="spacingAndGlyphs" fill="#2f2c2d">Peripheral edema</text>
<text x="292.50" y="1335.30" font-size="18" text-anchor="end" textLength="131.25" lengthAdjust="spacingAndGlyphs" fill="#2f2c2d">Pleural effusion</text>
<text x="292.50" y="1353.40" font-size="18" text-anchor="end" textLength="107.27" lengthAdjust="spacingAndGlyphs" fill="#2f2c2d">Hypotension</text>
<text x="291.50" y="1371.50" font-size="18" text-anchor="end" textLength="118.41" lengthAdjust="spacingAndGlyphs" fill="#2f2c2d">Hyponatremia</text>
<text x="291.50" y="1389.60" font-size="18" text-anchor="end" textLength="94.43" lengthAdjust="spacingAndGlyphs" fill="#2f2c2d">Pneumonia</text>
<text x="292.50" y="1407.70" font-size="18" text-anchor="end" textLength="229.02" lengthAdjust="spacingAndGlyphs" fill="#2f2c2d">Musculoskeletal chest pain</text>
<text x="755.73" y="778.75" font-size="18" text-anchor="end" textLength="118.04" lengthAdjust="spacingAndGlyphs" fill="#2f2c2d">Combination</text>
<text x="477.20" y="800.80" font-size="18" text-anchor="end" textLength="56.81" lengthAdjust="spacingAndGlyphs" fill="#2f2c2d">All AEs</text>
<text x="971.00" y="801.00" font-size="18" text-anchor="end" textLength="98.81" lengthAdjust="spacingAndGlyphs" fill="#2f2c2d">Related AEs</text>
<text x="789.60" y="1474.00" font-size="18" text-anchor="end" textLength="189.83" lengthAdjust="spacingAndGlyphs" fill="#2f2c2d">Relative frequency (%)</text>
<text x="1200.50" y="641.80" font-size="18" text-anchor="end" textLength="52.65" lengthAdjust="spacingAndGlyphs" fill="#2f2c2d">Grade</text>
</svg>
</body></html>
